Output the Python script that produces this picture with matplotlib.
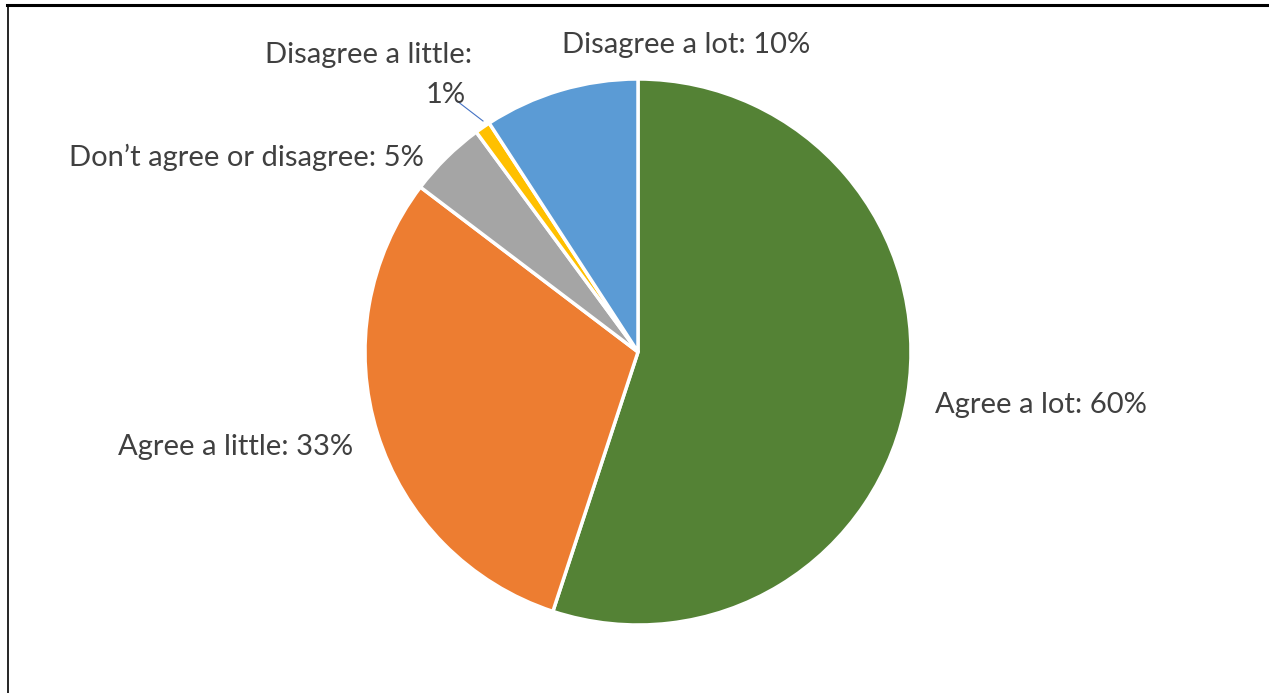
import matplotlib.pyplot as plt
from matplotlib.lines import Line2D

categories = ["Agree a lot", "Agree a little", "Don\u2019t agree or disagree",
              "Disagree a little", "Disagree a lot"]
values = [60, 33, 5, 1, 10]
colors = ["#548235", "#ED7D31", "#A5A5A5", "#FFC000", "#5B9BD5"]

W, H = 1269, 693
fig = plt.figure(figsize=(W / 100, H / 100), dpi=100)
ax = fig.add_axes([0, 0, 1, 1])


def fy(y):
    # pixel row (from top) to data y (from bottom)
    return H - y


cx, cy, r = 638, 352, 273
ax.pie(values, colors=colors, startangle=90, counterclock=False,
       center=(cx, fy(cy)), radius=r, frame=True,
       wedgeprops=dict(edgecolor="white", linewidth=2.5))
ax.set_xlim(0, W)
ax.set_ylim(0, H)
ax.set_aspect("equal")
ax.axis("off")

label_font = dict(family=["Lato", "DejaVu Sans"], fontsize=21, color="#404040")
texts = [f"{c}: {v}%" for c, v in zip(categories, values)]

ax.text(935, fy(405), texts[0], ha="left", va="center", **label_font)
ax.text(353, fy(447), texts[1], ha="right", va="center", **label_font)
ax.text(424, fy(157), texts[2], ha="right", va="center", **label_font)
ax.text(472, fy(55), f"{categories[3]}:", ha="right", va="center", **label_font)
ax.text(466, fy(95), f"{values[3]}%", ha="right", va="center", **label_font)
ax.text(686, fy(45), texts[4], ha="center", va="center", **label_font)

# leader line for the small slice
ax.add_line(Line2D([457, 483], [fy(101), fy(121)], color="#4472C4", lw=0.8))

# frame edges
fig.add_artist(Line2D([7 / W, 1], [1 - 5 / H, 1 - 5 / H], color="black", lw=2.2,
                      transform=fig.transFigure))
fig.add_artist(Line2D([7.5 / W, 7.5 / W], [0, 1 - 5 / H], color="black", lw=1.2,
                      transform=fig.transFigure))

fig.savefig("out.png", dpi=100, facecolor="white")
